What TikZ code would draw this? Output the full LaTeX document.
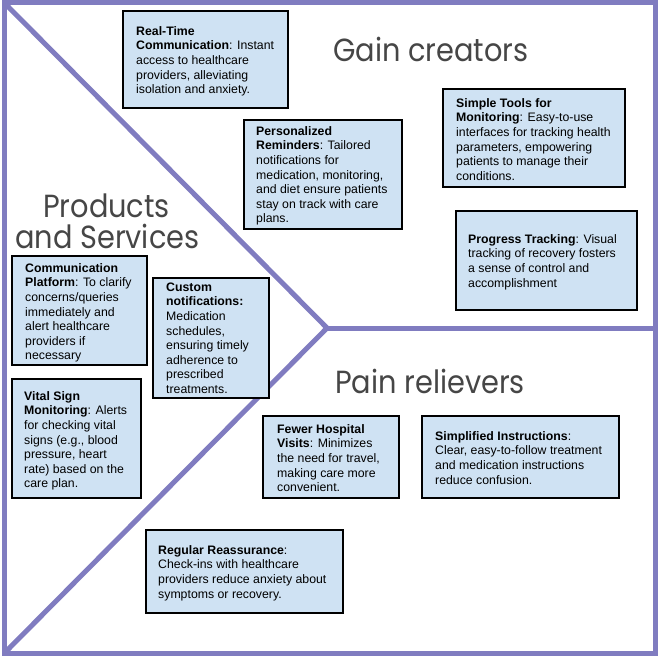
\documentclass[tikz,border=0pt]{standalone}
\usepackage{fontspec}
\setmainfont{Liberation Sans}
\newfontfamily\headfont[FakeStretch=0.9]{Poppins}
\definecolor{framec}{RGB}{128,124,192}
\definecolor{boxfill}{RGB}{207,226,243}
\definecolor{headc}{RGB}{70,70,70}
\tikzset{
  frameline/.style={draw=framec, line width=5pt, line join=miter},
  card/.style={draw=black, line width=1.2pt, fill=boxfill},
  cardtext/.style={anchor=north west, inner sep=0pt, align=left, font=\fontsize{12.3}{14.6}\selectfont},
  heading/.style={anchor=base west, inner sep=0pt, text=headc, font=\headfont\fontsize{32}{34}\selectfont},
}
\newcommand{\fl}{\rule{0pt}{10pt}}
\begin{document}
\begin{tikzpicture}[x=1pt,y=-1pt]
\useasboundingbox (0,0) rectangle (661,658);
\fill[white] (0,0) rectangle (661,658);
% frame
\coordinate (tl) at (4.5,3);
\coordinate (tr) at (655,3);
\coordinate (br) at (655,653);
\coordinate (bl) at (4.5,653);
\coordinate (c) at (327,328);
\coordinate (r) at (655,328);
\draw[frameline] (tl) -- (tr) -- (br) -- (bl) -- cycle;
\draw[frameline] (tl) -- (c) -- (bl);
\draw[frameline] (c) -- (r);
% headings
\node[heading] (hgain) at (333,62) {Gain creators};
\node[heading] (hprod1) at (43,217) {Products};
\node[heading] (hprod2) at (15,248) {and Services};
\node[heading] (hpain) at (335,393) {Pain relievers};
% cards
\draw[card] (123,11) rectangle (288,108);
\node[cardtext] (t1) at (136,25) {\fl\textbf{Real-Time}\\\textbf{Communication}: Instant\\access to healthcare\\providers, alleviating\\isolation and anxiety.};
\draw[card] (244,120) rectangle (402,229);
\node[cardtext] (t2) at (256,125) {\fl\textbf{Personalized}\\\textbf{Reminders}: Tailored\\notifications for\\medication, monitoring,\\and diet ensure patients\\stay on track with care\\plans.};
\draw[card] (443,89) rectangle (625,187);
\node[cardtext] (t3) at (456,97) {\fl\textbf{Simple Tools for}\\\textbf{Monitoring}: Easy-to-use\\interfaces for tracking health\\parameters, empowering\\patients to manage their\\conditions.};
\draw[card] (456,211) rectangle (637,310);
\node[cardtext] (t4) at (468,233) {\fl\textbf{Progress Tracking}: Visual\\tracking of recovery fosters\\a sense of control and\\accomplishment};
\draw[card] (12,256) rectangle (147,365);
\node[cardtext] (t5) at (25,262) {\fl\textbf{Communication}\\\textbf{Platform}: To clarify\\concerns/queries\\immediately and\\alert healthcare\\providers if\\necessary};
\draw[card] (153,278) rectangle (269,398);
\node[cardtext] (t6) at (166,281) {\fl\textbf{Custom}\\\textbf{notifications:}\\Medication\\schedules,\\ensuring timely\\adherence to\\prescribed\\treatments.};
\draw[card] (12,379) rectangle (141,498);
\node[cardtext] (t7) at (24,390) {\fl\textbf{Vital Sign}\\\textbf{Monitoring}: Alerts\\for checking vital\\signs (e.g., blood\\pressure, heart\\rate) based on the\\care plan.};
\draw[card] (263,416) rectangle (399,498);
\node[cardtext] (t8) at (277,423) {\fl\textbf{Fewer Hospital}\\\textbf{Visits}: Minimizes\\the need for travel,\\making care more\\convenient.};
\draw[card] (422,416) rectangle (619,498);
\node[cardtext] (t9) at (435,430) {\fl\textbf{Simplified Instructions}:\\Clear, easy-to-follow treatment\\and medication instructions\\reduce confusion.};
\draw[card] (146,530) rectangle (343,613);
\node[cardtext] (t10) at (158,544) {\fl\textbf{Regular Reassurance}:\\Check-ins with healthcare\\providers reduce anxiety about\\symptoms or recovery.};
\end{tikzpicture}
\end{document}
